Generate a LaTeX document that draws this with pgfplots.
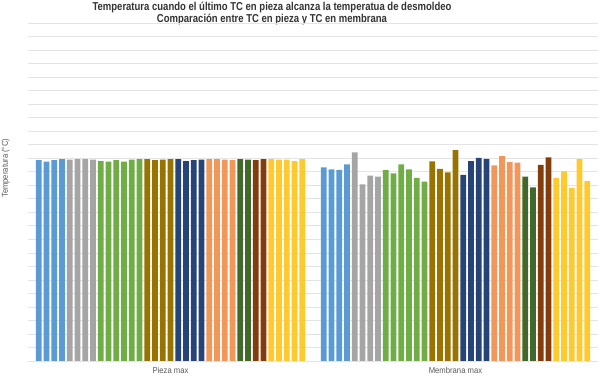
\documentclass[border=0pt]{standalone}
\usepackage{fontspec}
\setmainfont{Liberation Sans}
\newfontfamily\titlefont{Liberation Sans}[FakeStretch=0.83]
\newfontfamily\labfont{Liberation Sans}[FakeStretch=0.9]
\usepackage{pgfplots}
\pgfplotsset{compat=1.18}
\definecolor{c1}{HTML}{5B9BD5}
\definecolor{c2}{HTML}{A5A5A5}
\definecolor{c3}{HTML}{70AD47}
\definecolor{c4}{HTML}{997300}
\definecolor{c5}{HTML}{264478}
\definecolor{c6}{HTML}{F1975A}
\definecolor{c7}{HTML}{43682B}
\definecolor{c8}{HTML}{843C0C}
\definecolor{c9}{HTML}{FFCA2E}
\definecolor{gridc}{HTML}{E4E4E4}
\definecolor{txt}{HTML}{595959}
\newcommand\B[4]{\addplot[fill=#1,draw=none,bar shift=#2] coordinates {(0,#3) (1,#4)};}
\begin{document}
\begin{tikzpicture}
\useasboundingbox (0,0) rectangle (450pt,282.75pt);
\node[font=\titlefont\bfseries\fontsize{8.6}{10}\selectfont, text=black!80] at (204pt,277.3pt) {Temperatura cuando el último TC en pieza alcanza la temperatua de desmoldeo};
\node[font=\titlefont\bfseries\fontsize{8.6}{10}\selectfont, text=black!80] at (204pt,268.3pt) {Comparación entre TC en pieza y TC en membrana};
\node[font=\labfont\fontsize{6.4}{7}\selectfont, text=txt, rotate=90] at (4.2pt,156.5pt) {Temperatura (°C)};
\begin{axis}[
  at={(21pt,12pt)}, anchor=south west,
  scale only axis, width=427.5pt, height=253.3pt,
  ybar, bar width=0.0198, ymin=0, ymax=250, xmin=-0.5, xmax=1.5,
  ytick={0,10,...,250}, yticklabels={},
  ymajorgrids, grid style={gridc, line width=0.6pt},
  major tick length=0pt,
  xtick={0,1}, xticklabels={Pieza max, Membrana max},
  xticklabel style={font=\labfont\fontsize{6.4}{7}\selectfont, text=txt, yshift=-1pt},
  axis line style={draw=none},
  clip=false,
]
\B{c1}{-0.4624}{148.6}{143.4}
\B{c1}{-0.4352}{147.5}{141.9}
\B{c1}{-0.4080}{148.6}{141.4}
\B{c1}{-0.3808}{149.5}{145.6}
\B{c2}{-0.3536}{149.0}{154.5}
\B{c2}{-0.3264}{149.5}{130.8}
\B{c2}{-0.2992}{149.5}{137.2}
\B{c2}{-0.2720}{149.0}{136.4}
\B{c3}{-0.2448}{148.0}{141.2}
\B{c3}{-0.2176}{147.5}{138.9}
\B{c3}{-0.1904}{148.6}{145.6}
\B{c3}{-0.1632}{147.5}{141.9}
\B{c3}{-0.1360}{149.0}{135.5}
\B{c3}{-0.1088}{149.5}{132.7}
\B{c4}{-0.0816}{149.5}{147.8}
\B{c4}{-0.0544}{148.6}{142.3}
\B{c4}{-0.0272}{149.0}{139.7}
\B{c4}{0}{149.5}{156.0}
\B{c5}{0.0272}{149.5}{137.7}
\B{c5}{0.0544}{148.0}{148.0}
\B{c5}{0.0816}{148.6}{150.3}
\B{c5}{0.1088}{149.0}{149.7}
\B{c6}{0.1360}{149.5}{144.8}
\B{c6}{0.1632}{149.5}{151.7}
\B{c6}{0.1904}{149.0}{147.3}
\B{c6}{0.2176}{148.6}{146.8}
\B{c7}{0.2448}{149.5}{136.4}
\B{c7}{0.2720}{149.0}{128.6}
\B{c8}{0.2992}{148.6}{145.1}
\B{c8}{0.3264}{149.5}{150.8}
\B{c9}{0.3536}{149.5}{135.5}
\B{c9}{0.3808}{149.0}{140.4}
\B{c9}{0.4080}{149.0}{128.1}
\B{c9}{0.4352}{148.0}{149.5}
\B{c9}{0.4624}{149.5}{133.2}
\end{axis}
\end{tikzpicture}
\end{document}
